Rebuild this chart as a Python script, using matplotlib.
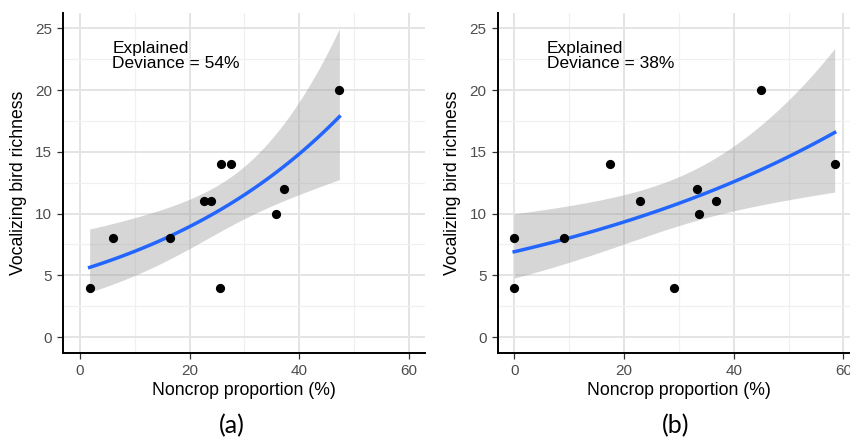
import numpy as np
import matplotlib
matplotlib.use("Agg")
from matplotlib import pyplot as plt
from matplotlib.ticker import MultipleLocator

# points
noncrop_a = [1.8, 6.1, 16.5, 22.6, 23.9, 25.8, 27.6, 25.6, 35.7, 37.3, 47.3]
birds_a = [4, 8, 8, 11, 11, 14, 14, 4, 10, 12, 20]
noncrop_b = [0.0, 0.0, 9.0, 17.5, 23.0, 29.2, 33.4, 33.7, 36.7, 44.9, 58.4]
birds_b = [8, 4, 8, 14, 11, 4, 12, 10, 11, 20, 14]

dev_labels = ["Explained\nDeviance = 54%", "Explained\nDeviance = 38%"]
captions = ["(a)", "(b)"]
xticks = [0, 20, 40, 60]
yticks = [0, 5, 10, 15, 20, 25]

plt.rcParams['font.family'] = ['Liberation Sans', 'DejaVu Sans']


def poisson_glm(x, y):
    # plain IRLS, log link
    X = np.column_stack([np.ones_like(x), x])
    beta = np.array([np.log(y.mean()), 0.0])
    for _ in range(100):
        eta = X @ beta
        mu = np.exp(eta)
        z = eta + (y - mu) / mu
        beta = np.linalg.solve(X.T @ (mu[:, None] * X), X.T @ (mu * z))
    mu = np.exp(X @ beta)
    cov = np.linalg.inv(X.T @ (mu[:, None] * X))
    return beta, cov


fig = plt.figure(figsize=(8.5, 4.43), dpi=100)
W, H = 850.0, 443.0
lefts = [63.3, 497.7]
cap_x = [232, 676]

for i, (xs, ys) in enumerate([(noncrop_a, birds_a), (noncrop_b, birds_b)]):
    x = np.array(xs, dtype=float)
    y = np.array(ys, dtype=float)
    ax = fig.add_axes([lefts[i] / W, (H - 352.5) / H, 362.2 / W, 339.7 / H])

    beta, cov = poisson_glm(x, y)
    grid = np.linspace(x.min(), x.max(), 80)
    G = np.column_stack([np.ones_like(grid), grid])
    eta = G @ beta
    se = np.sqrt(np.einsum('ij,jk,ik->i', G, cov, G))
    ax.fill_between(grid, np.exp(eta - 1.96 * se), np.exp(eta + 1.96 * se),
                    color='#999999', alpha=0.4, lw=0, zorder=2)
    ax.plot(grid, np.exp(eta), color='#2266FF', lw=2.5, zorder=3)
    ax.scatter(x, y, s=44, color='black', zorder=4, linewidths=0)

    ax.text(5.9, 24.0, dev_labels[i], ha='left', va='top', fontsize=12.5,
            linespacing=1.05, zorder=5)

    ax.set_xlim(-3, 63)
    ax.set_ylim(-1.25, 26.25)
    ax.set_xticks(xticks)
    ax.set_yticks(yticks)
    ax.xaxis.set_minor_locator(MultipleLocator(10))
    ax.yaxis.set_minor_locator(MultipleLocator(2.5))
    ax.grid(which='major', color='#e4e4e4', lw=1.4, zorder=0)
    ax.grid(which='minor', color='#f0f0f0', lw=0.9, zorder=0)
    ax.set_axisbelow(True)
    ax.tick_params(which='minor', length=0)
    ax.tick_params(which='major', length=4, width=0.9, color='#333333',
                   labelcolor='#4d4d4d', labelsize=11, pad=4)
    for s in ['top', 'right']:
        ax.spines[s].set_visible(False)
    for s in ['left', 'bottom']:
        ax.spines[s].set_linewidth(1.4)
        ax.spines[s].set_color('black')

    ax.set_xlabel('Noncrop proportion (%)', fontsize=12.7)
    ax.set_ylabel('Vocalizing bird richness', fontsize=12.7)
    ax.xaxis.set_label_coords(0.5, -0.088)
    ax.yaxis.set_label_coords(-0.1, 0.5)

    fig.text(cap_x[i] / W, 1 - 433 / H, captions[i], ha='center', va='baseline',
             fontsize=18, family=['Lato', 'DejaVu Sans'])

fig.savefig('out.png', dpi=100)
